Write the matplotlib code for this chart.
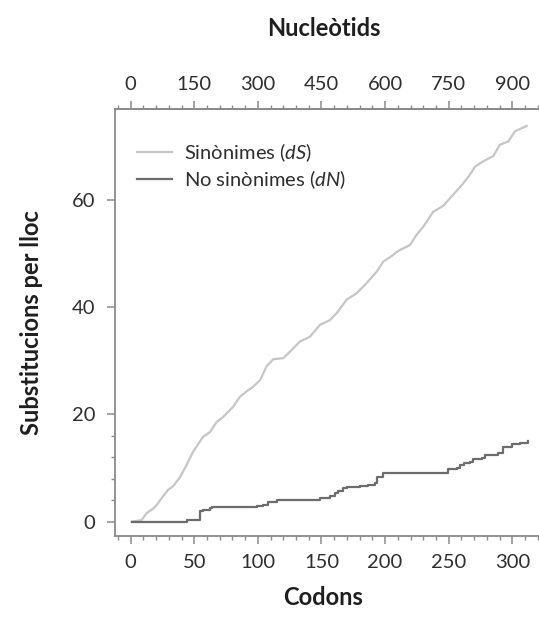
import matplotlib
matplotlib.use("Agg")
import matplotlib.pyplot as plt
from matplotlib.ticker import MultipleLocator, FixedLocator

plt.rcParams['font.family'] = ['Lato', 'DejaVu Sans']
plt.rcParams['mathtext.fontset'] = 'custom'
plt.rcParams['mathtext.rm'] = 'Lato'
plt.rcParams['mathtext.it'] = 'Lato:italic'

# synonymous substitutions (dS)
ds_codon = [0.8, 8.6, 12.6, 17.5, 20.4, 24.4, 29.3, 33.3, 38.8, 44, 49, 56.8,
            62.3, 67.6, 72.6, 80.4, 85.9, 91.2, 96.4, 101.7, 106.9, 112.1, 120,
            125.2, 133.1, 141, 148.8, 156.7, 162, 169.8, 177.7, 185.5, 193.4,
            198.6, 203.8, 210.4, 219.6, 224.8, 230, 237.9, 245.8, 253.6, 261.5,
            266.7, 270.7, 277.2, 285.1, 290.3, 296.9, 302.1, 311.3]
ds_value = [0, 0.3, 1.6, 2.4, 3.1, 4.4, 5.9, 6.6, 8.3, 10.6, 13, 15.8,
            16.7, 18.6, 19.5, 21.4, 23.3, 24.3, 25.2, 26.4, 29.0, 30.3, 30.5,
            31.7, 33.6, 34.5, 36.7, 37.6, 38.9, 41.4, 42.6, 44.5, 46.6,
            48.5, 49.3, 50.5, 51.6, 53.5, 55.0, 57.8, 58.9, 61.0, 63.1,
            64.7, 66.2, 67.2, 68.2, 70.3, 70.9, 72.8, 73.8]

# non-synonymous substitutions (dN)
dn_codon = [0.8, 44, 54.5, 57, 62.3, 63.7, 99, 104, 108.2, 114.8, 148.8, 152,
            156.7, 160.6, 163, 167.1, 169.8, 180, 186.8, 192, 193.4, 198.6,
            249.7, 256.3, 258.9, 262, 266.7, 269.3, 276, 278.5, 289, 292.9,
            299.5, 306, 312.6]
dn_value = [0, 0.3, 1.9, 2.2, 2.5, 2.7, 2.9, 3.1, 3.7, 4.05, 4.4, 4.5,
            4.7, 5.4, 5.8, 6.2, 6.5, 6.7, 6.85, 7.2, 8.4, 9.1,
            9.8, 10.0, 10.6, 10.9, 11.2, 11.6, 11.9, 12.4, 12.8, 14.0,
            14.5, 14.6, 15.1]

codon_ticks = [0, 50, 100, 150, 200, 250, 300]
nucl_ticks = [0, 150, 300, 450, 600, 750, 900]
y_ticks = [0, 20, 40, 60]

spine_col = '#8a8a8a'
text_col = '#2e2e2e'
label_col = '#1e1e1e'

fig = plt.figure(figsize=(5.39, 6.26), dpi=100)
ax = fig.add_axes([0.2134, 0.1438, 0.7866, 0.6816])

ax.plot(ds_codon, ds_value, color='#c6c6c6', lw=1.6,
        label='Sinònimes ($\\it{dS}$)')
ax.step(dn_codon, dn_value, where='post', color='#6c6c6c', lw=1.6,
        label='No sinònimes ($\\it{dN}$)')

ax.set_xlim(-12.3, 321)
ax.set_ylim(-2.67, 76.9)

for side in ['left', 'bottom', 'top']:
    ax.spines[side].set_color(spine_col)
    ax.spines[side].set_linewidth(1.3)
ax.spines['right'].set_visible(False)

ax.set_xticks(codon_ticks)
ax.xaxis.set_minor_locator(MultipleLocator(10))
ax.set_yticks(y_ticks)
ax.yaxis.set_minor_locator(FixedLocator([4, 8, 12, 16]))
ax.tick_params(which='major', length=6, width=1.1, color=spine_col,
               labelsize=14.5, labelcolor=text_col, pad=7)
ax.tick_params(which='minor', length=3, width=1, color=spine_col)
ax.tick_params(axis='y', which='major', pad=8)

top = ax.secondary_xaxis('top', functions=(lambda x: x * 3, lambda x: x / 3))
top.set_xticks(nucl_ticks)
top.xaxis.set_minor_locator(MultipleLocator(30))
top.spines['top'].set_color(spine_col)
top.spines['top'].set_linewidth(1.3)
top.tick_params(which='major', length=6, width=1.1, color=spine_col,
                labelsize=14.5, labelcolor=text_col, pad=5.5)
top.tick_params(which='minor', length=3, width=1, color=spine_col)

ax.set_xlabel('Codons', fontsize=17, fontweight='bold', color=label_col,
              va='center')
ax.xaxis.set_label_coords(0.49, -0.145)
fig.text(0.600, 1 - 28 / 626, 'Nucleòtids', fontsize=17, fontweight='bold',
         color=label_col, ha='center', va='center')
ax.set_ylabel('Substitucions per lloc', fontsize=17, fontweight='bold',
              color=label_col, va='center')
ax.yaxis.set_label_coords(-0.196, 0.5)

leg = ax.legend(loc='upper left', frameon=False, fontsize=14.5,
                handlelength=1.75, handletextpad=0.6, labelspacing=0.25,
                bbox_to_anchor=(0.052, 0.926), borderaxespad=0, borderpad=0)
for t in leg.get_texts():
    t.set_color(text_col)

fig.savefig('out.png', dpi=100)
